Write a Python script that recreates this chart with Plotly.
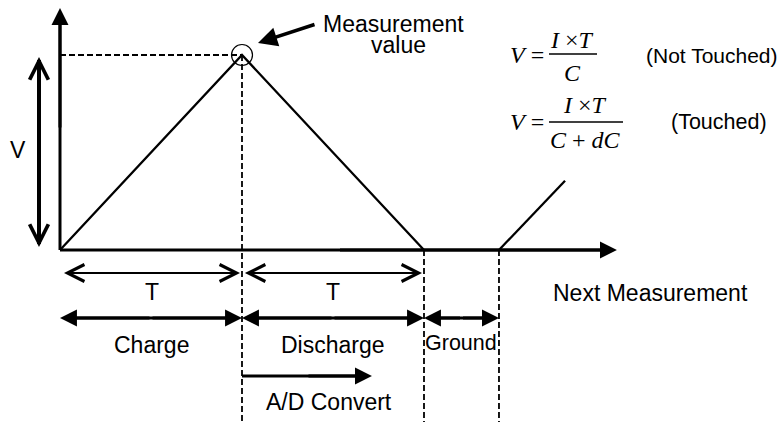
import plotly.graph_objects as go

# ---------------- data (time in units of T, voltage normalised to the peak) -------------
wave_t = [0.0, 1.0, 2.0]          # charge ramp up, discharge ramp down
wave_v = [0.0, 1.0, 0.0]
next_t = [2.412, 2.775]           # start of the next measurement
next_v = [0.0, 0.355]
phase_names = ["Charge", "Discharge", "Ground"]
phase_start = [0.0, 1.0, 2.0]
phase_end = [1.0, 2.0, 2.412]
period_labels = ["T", "T"]
period_start = [0.022, 1.016]
period_end = [0.989, 1.989]
adc_span = [1.0, 1.714]
axis_t_end = 3.06
axis_v_end = 1.241
v_arrow_span = [0.015, 0.99]

# ---------------- geometry helpers (pixel <-> data) ----------------
W, H = 782, 422
X0, Y0, SX, SY = 60.0, 250.0, 182.0, 195.0


def X(px):
    return (px - X0) / SX


def Y(py):
    return (Y0 - py) / SY


FONT = "Liberation Sans, Arial, sans-serif"
SERIF = "Liberation Serif, Times New Roman, serif"
BLACK = "black"

fig = go.Figure()


def seg(xs, ys, width, dash=None):
    fig.add_trace(go.Scatter(x=xs, y=ys, mode="lines", hoverinfo="skip",
                             line=dict(color=BLACK, width=width, dash=dash)))


# waveform
seg(wave_t, wave_v, 2.3)
seg(next_t, next_v, 2.3)

# dashed guides
bottom = Y(H)
peak_t, peak_v = wave_t[1], wave_v[1]
DASH = "6px,3px"
seg([wave_t[0], peak_t], [peak_v, peak_v], 1.8, DASH)
for xt, y_top in [(peak_t, peak_v), (phase_end[1], 0.0), (phase_end[2], 0.0)]:
    seg([xt, xt], [y_top, bottom], 1.8, DASH)

# measurement circle at the peak
fig.add_trace(go.Scatter(x=[peak_t], y=[peak_v], mode="markers",
                         marker=dict(symbol="circle-open", size=21,
                                     line=dict(color=BLACK, width=1.2), color=BLACK),
                         hoverinfo="skip"))


def head(xt, yt, xa, ya, style, width, size):
    fig.add_annotation(x=xt, y=yt, ax=xa, ay=ya, xref="x", yref="y",
                       axref="x", ayref="y", text="", showarrow=True,
                       arrowhead=style, arrowwidth=width, arrowsize=size,
                       arrowcolor=BLACK, standoff=0, startstandoff=0)


def h_arrow(x1, x2, y, style, width, size, both=True, inset=0.0):
    # shaft drawn as a full line, heads as annotations
    ins = inset / SX
    seg([x1 + (ins if both else 0.0), x2 - ins], [y, y], width)
    mid = (x1 + x2) / 2
    head(x2, y, mid, y, style, width, size)
    if both:
        head(x1, y, mid, y, style, width, size)


def v_arrow(x, y1, y2, style, width, size, both=True, inset=0.0):
    ins = inset / SY
    seg([x, x], [y1 + (ins if both else 0.0), y2 - ins], width)
    mid = (y1 + y2) / 2
    head(x, y2, x, mid, style, width, size)
    if both:
        head(x, y1, x, mid, style, width, size)


# axes
h_arrow(wave_t[0], axis_t_end, 0.0, 2, 3, 1.13, both=False, inset=8)
v_arrow(wave_t[0], 0.0, axis_v_end, 2, 3, 1.13, both=False, inset=8)

# V arrow (vertical double arrow)
v_arrow(X(39), v_arrow_span[0], v_arrow_span[1], 5, 4, 0.92, inset=3)

# T arrows
row_T = Y(273)
for a, b in zip(period_start, period_end):
    h_arrow(a, b, row_T, 5, 2, 1.65, inset=2)

# phase arrows
row_P = Y(318)
for a, b in zip(phase_start, phase_end):
    h_arrow(a, b, row_P, 2, 3, 1.13, inset=8)

# A/D convert arrow
row_A = Y(376)
h_arrow(adc_span[0], adc_span[1], row_A, 2, 3, 1.13, both=False, inset=8)

# measurement pointer arrow
head(X(258), Y(43), X(316), Y(24), 2, 3.5, 1.1)


def label(text, xpx, ypx, size=23, family=FONT, xanchor="center"):
    fig.add_annotation(x=X(xpx), y=Y(ypx), xref="x", yref="y", text=text,
                       showarrow=False, xanchor=xanchor, yanchor="middle",
                       font=dict(family=family, size=size, color=BLACK))


label("V", 18, 150)
for lab, a, b in zip(period_labels, period_start, period_end):
    label(lab, X0 + SX * (a + b) / 2, 292)
for name, a, b in zip(phase_names, phase_start, phase_end):
    if name == "Ground":
        label(name, X0 + SX * (a + b) / 2, 343, 21.5)
    else:
        label(name, X0 + SX * (a + b) / 2, 345)
label("A/D Convert", 329, 402)
label("Next Measurement", 650, 293)
label("Measurement", 393, 24)
label("value", 398, 45)

# formulas
FS = 24
label("<i>V</i> =", 546, 55, FS, SERIF, xanchor="right")
label("<i>I</i> ×<i>T</i>", 572, 40, FS, SERIF)
label("<i>C</i>", 572, 73, FS, SERIF)
label("(Not Touched)", 712, 55, 21)
label("<i>V</i> =", 546, 122, FS, SERIF, xanchor="right")
label("<i>I</i> ×<i>T</i>", 585, 105, FS, SERIF)
label("<i>C</i> + <i>dC</i>", 585, 140, FS, SERIF)
label("(Touched)", 719, 122, 21.5)

for x1, x2, yb in [(549, 597, 54), (549, 623, 122)]:
    fig.add_shape(type="line", x0=X(x1), x1=X(x2), y0=Y(yb), y1=Y(yb),
                  xref="x", yref="y", line=dict(color=BLACK, width=1.3))

fig.update_layout(
    width=W, height=H, margin=dict(l=0, r=0, t=0, b=0),
    paper_bgcolor="white", plot_bgcolor="white", showlegend=False,
    xaxis=dict(range=[X(0), X(W)], visible=False, fixedrange=True),
    yaxis=dict(range=[Y(H), Y(0)], visible=False, fixedrange=True),
)
fig.write_html("out.html", config={"displayModeBar": False},
               post_script="document.body.style.margin='0';")
